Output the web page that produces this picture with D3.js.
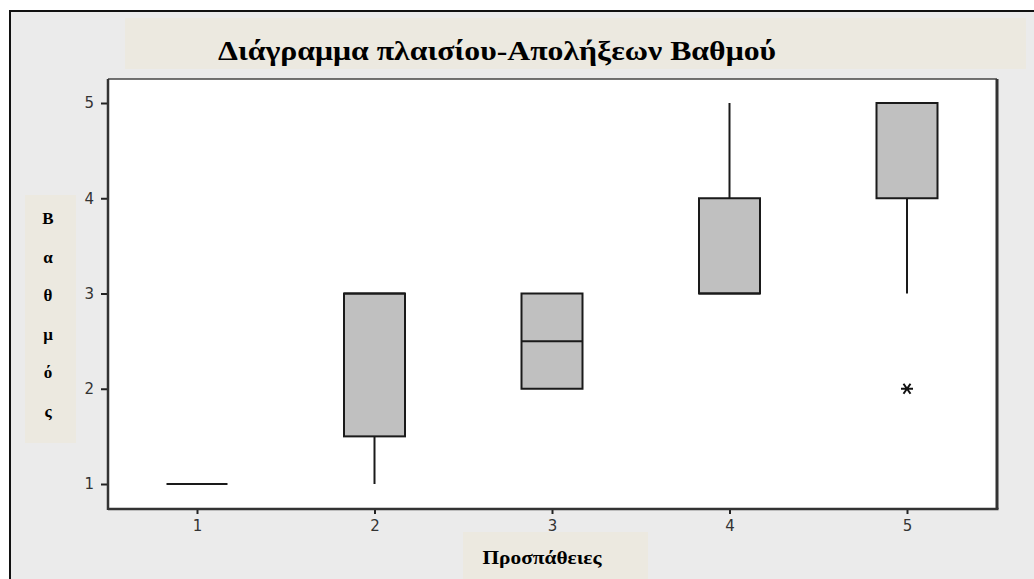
<!DOCTYPE html>
<html>
<head>
<meta charset="utf-8">
<script src="https://cdn.jsdelivr.net/npm/d3@7"></script>
<style>
  html, body { margin: 0; padding: 0; background: #ffffff; }
  svg { display: block; }
</style>
</head>
<body>
<svg id="chart" width="1034" height="579"></svg>
<script>
// Grade-ending box plot by number of attempts
const attempts = [1, 2, 3, 4, 5];
const q1Values     = [1, 1.5, 2, 3, 4];
const medianValues = [1, 3, 2.5, 3, 5];
const q3Values     = [1, 3, 3, 4, 5];
const whiskerLow   = [1, 1, 2, 3, 3];
const whiskerHigh  = [1, 3, 3, 5, 5];
const outliers     = [{ attempt: 5, value: 2 }];
const xTickLabels  = ["1", "2", "3", "4", "5"];
const yTickValues  = [1, 2, 3, 4, 5];

const titleText = "Διάγραμμα πλαισίου-Απολήξεων Βαθμού";
const xTitle = "Προσπάθειες";
const yTitle = "Βαθμός";

const svg = d3.select("#chart");
const W = 1034, H = 579;

// page frame
svg.append("rect").attr("x", 10).attr("y", 11).attr("width", W - 10).attr("height", H - 11)
  .attr("fill", "#ebebeb");
svg.append("path").attr("d", `M10,${H} L10,11 L${W},11`)
  .attr("fill", "none").attr("stroke", "#111").attr("stroke-width", 2);

// title panel
svg.append("rect").attr("x", 125).attr("y", 18).attr("width", 901).attr("height", 51)
  .attr("fill", "#ece9e0");
svg.append("text").attr("x", 497).attr("y", 60)
  .attr("text-anchor", "middle")
  .attr("font-family", "'Liberation Serif', 'Times New Roman', serif")
  .attr("font-weight", "bold").attr("font-size", 27)
  .attr("textLength", 558).attr("lengthAdjust", "spacingAndGlyphs")
  .attr("fill", "#000").text(titleText);

// plot area
const plot = { left: 108, right: 997, top: 79, bottom: 509 };
svg.append("rect").attr("x", plot.left).attr("y", plot.top)
  .attr("width", plot.right - plot.left).attr("height", plot.bottom - plot.top)
  .attr("fill", "#ffffff");

const x = d3.scaleLinear().domain([1, 5]).range([197, 907]);
const y = d3.scaleLinear().domain([1, 5]).range([484, 103]);
const boxW = 61;

const tickFont = "'DejaVu Sans', Verdana, sans-serif";

// y axis
const yAxis = svg.append("g").attr("transform", `translate(${plot.left},0)`)
  .call(d3.axisLeft(y).tickValues(yTickValues).tickFormat(d3.format("d")).tickSize(7).tickPadding(7));
yAxis.select(".domain").remove();
yAxis.selectAll(".tick line").attr("stroke", "#222").attr("stroke-width", 2);
yAxis.selectAll(".tick text").attr("font-family", tickFont).attr("font-size", 15)
  .attr("fill", "#333");

// x axis
const xAxis = svg.append("g").attr("transform", `translate(0,${plot.bottom})`)
  .call(d3.axisBottom(x).tickValues(attempts).tickFormat((d, i) => xTickLabels[i]).tickSize(5).tickPadding(6));
xAxis.select(".domain").remove();
xAxis.selectAll(".tick line").attr("stroke", "#222").attr("stroke-width", 2);
xAxis.selectAll(".tick text").attr("font-family", tickFont).attr("font-size", 15)
  .attr("fill", "#333");

// plot borders
svg.append("line").attr("x1", plot.left).attr("x2", plot.right).attr("y1", plot.top).attr("y2", plot.top)
  .attr("stroke", "#444").attr("stroke-width", 1.5);
svg.append("line").attr("x1", plot.right).attr("x2", plot.right).attr("y1", plot.top).attr("y2", plot.bottom)
  .attr("stroke", "#333").attr("stroke-width", 3);
svg.append("line").attr("x1", plot.left).attr("x2", plot.left).attr("y1", plot.top).attr("y2", plot.bottom + 1)
  .attr("stroke", "#333").attr("stroke-width", 2.5);
svg.append("line").attr("x1", plot.left).attr("x2", plot.right + 1.5).attr("y1", plot.bottom).attr("y2", plot.bottom)
  .attr("stroke", "#333").attr("stroke-width", 2.5);

// boxes
const stats = attempts.map((a, i) => ({
  a, q1: q1Values[i], med: medianValues[i], q3: q3Values[i], lo: whiskerLow[i], hi: whiskerHigh[i]
}));

const g = svg.append("g");
stats.forEach(s => {
  const cx = x(s.a);
  // whiskers
  if (s.lo < s.q1) g.append("line").attr("x1", cx).attr("x2", cx).attr("y1", y(s.q1)).attr("y2", y(s.lo))
    .attr("stroke", "#1a1a1a").attr("stroke-width", 2);
  if (s.hi > s.q3) g.append("line").attr("x1", cx).attr("x2", cx).attr("y1", y(s.q3)).attr("y2", y(s.hi))
    .attr("stroke", "#1a1a1a").attr("stroke-width", 2);
  // box
  if (s.q3 > s.q1) {
    g.append("rect").attr("x", cx - boxW / 2).attr("y", y(s.q3))
      .attr("width", boxW).attr("height", y(s.q1) - y(s.q3))
      .attr("fill", "#c0c0c0").attr("stroke", "#1a1a1a").attr("stroke-width", 2);
  }
  // median
  g.append("line").attr("x1", cx - boxW / 2).attr("x2", cx + boxW / 2)
    .attr("y1", y(s.med)).attr("y2", y(s.med))
    .attr("stroke", "#1a1a1a").attr("stroke-width", 2);
});

// outliers: six-pointed star with a horizontal bar
const starPath = "M-6,0L6,0M-3.5,-5L3.5,5M-3.5,5L3.5,-5";
g.selectAll(".outlier").data(outliers).join("path")
  .attr("class", "outlier")
  .attr("d", starPath)
  .attr("transform", d => `translate(${x(d.attempt)},${y(d.value)})`)
  .attr("fill", "none").attr("stroke", "#111").attr("stroke-width", 2);

// y title panel (stacked letters)
svg.append("rect").attr("x", 25).attr("y", 195).attr("width", 51).attr("height", 248)
  .attr("fill", "#ece9e0");
svg.append("g").selectAll("text").data(Array.from(yTitle)).join("text")
  .attr("x", 48).attr("y", (d, i) => 224 + i * 38.5)
  .attr("text-anchor", "middle")
  .attr("font-family", "'Liberation Serif', 'Times New Roman', serif")
  .attr("font-weight", "bold").attr("font-size", 17).attr("fill", "#000")
  .text(d => d);

// x title panel
svg.append("rect").attr("x", 463).attr("y", 532).attr("width", 185).attr("height", 47)
  .attr("fill", "#ece9e0");
svg.append("text").attr("x", 542).attr("y", 564)
  .attr("text-anchor", "middle")
  .attr("font-family", "'Liberation Serif', 'Times New Roman', serif")
  .attr("font-weight", "bold").attr("font-size", 19)
  .attr("textLength", 119).attr("lengthAdjust", "spacingAndGlyphs")
  .attr("fill", "#000").text(xTitle);
</script>
</body>
</html>
